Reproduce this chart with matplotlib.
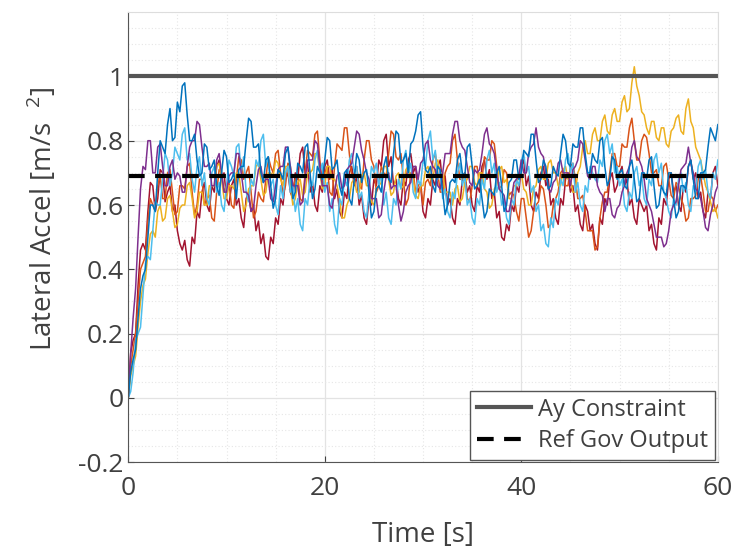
import numpy as np
import matplotlib
matplotlib.use("Agg")
from matplotlib import pyplot as plt
from matplotlib.ticker import MultipleLocator

# sample times of the runs (0.25 s steps)
t = np.linspace(0, 60, 241)

blue = [0.00, 0.08, 0.12, 0.15, 0.25, 0.34, 0.38, 0.40, 0.50, 0.60, 0.60, 0.58, 0.70, 0.80, 0.78, 0.76, 0.85, 0.90, 0.80, 0.81,
        0.92, 0.89, 0.97, 0.98, 0.88, 0.80, 0.80, 0.82, 0.74, 0.69, 0.70, 0.79, 0.78, 0.71, 0.72, 0.74, 0.66, 0.63, 0.70, 0.77,
        0.75, 0.67, 0.68, 0.70, 0.62, 0.71, 0.72, 0.72, 0.80, 0.87, 0.86, 0.78, 0.78, 0.79, 0.70, 0.67, 0.74, 0.75, 0.66, 0.59,
        0.62, 0.71, 0.70, 0.68, 0.76, 0.78, 0.70, 0.62, 0.64, 0.73, 0.72, 0.70, 0.78, 0.79, 0.70, 0.62, 0.65, 0.72, 0.70, 0.68,
        0.74, 0.81, 0.80, 0.71, 0.72, 0.74, 0.66, 0.63, 0.70, 0.71, 0.62, 0.60, 0.68, 0.76, 0.74, 0.67, 0.70, 0.71, 0.64, 0.56,
        0.58, 0.65, 0.66, 0.64, 0.72, 0.75, 0.68, 0.67, 0.76, 0.83, 0.82, 0.73, 0.74, 0.76, 0.70, 0.79, 0.80, 0.83, 0.88, 0.89,
        0.78, 0.71, 0.70, 0.72, 0.66, 0.64, 0.72, 0.71, 0.64, 0.57, 0.60, 0.67, 0.68, 0.67, 0.74, 0.76, 0.70, 0.69, 0.78, 0.79,
        0.72, 0.65, 0.66, 0.68, 0.62, 0.56, 0.58, 0.65, 0.64, 0.63, 0.70, 0.72, 0.66, 0.58, 0.60, 0.67, 0.68, 0.74, 0.74, 0.68,
        0.70, 0.77, 0.76, 0.75, 0.82, 0.82, 0.74, 0.67, 0.68, 0.74, 0.72, 0.65, 0.66, 0.72, 0.70, 0.69, 0.76, 0.82, 0.80, 0.73,
        0.72, 0.79, 0.78, 0.78, 0.84, 0.84, 0.76, 0.70, 0.70, 0.76, 0.74, 0.73, 0.80, 0.81, 0.72, 0.66, 0.68, 0.75, 0.74, 0.68,
        0.70, 0.71, 0.66, 0.65, 0.72, 0.74, 0.68, 0.61, 0.62, 0.70, 0.70, 0.68, 0.74, 0.75, 0.66, 0.59, 0.60, 0.66, 0.64, 0.63,
        0.70, 0.70, 0.62, 0.56, 0.58, 0.66, 0.66, 0.65, 0.72, 0.74, 0.68, 0.62, 0.62, 0.70, 0.70, 0.71, 0.78, 0.84, 0.82, 0.80,
        0.85]

orange = [0.00, 0.10, 0.15, 0.20, 0.30, 0.40, 0.42, 0.44, 0.55, 0.62, 0.60, 0.58, 0.66, 0.69, 0.62, 0.62, 0.70, 0.71, 0.64, 0.57,
          0.58, 0.66, 0.66, 0.65, 0.72, 0.73, 0.64, 0.57, 0.60, 0.68, 0.68, 0.60, 0.62, 0.63, 0.56, 0.55, 0.64, 0.71, 0.70, 0.64,
          0.66, 0.67, 0.60, 0.59, 0.68, 0.75, 0.74, 0.68, 0.70, 0.72, 0.64, 0.56, 0.58, 0.64, 0.62, 0.61, 0.68, 0.75, 0.72, 0.70,
          0.76, 0.77, 0.70, 0.63, 0.66, 0.73, 0.72, 0.65, 0.68, 0.69, 0.62, 0.61, 0.70, 0.77, 0.76, 0.75, 0.82, 0.83, 0.74, 0.67,
          0.70, 0.72, 0.64, 0.63, 0.72, 0.79, 0.78, 0.77, 0.84, 0.84, 0.76, 0.69, 0.70, 0.72, 0.66, 0.65, 0.74, 0.80, 0.80, 0.74,
          0.72, 0.64, 0.66, 0.72, 0.70, 0.69, 0.76, 0.83, 0.82, 0.75, 0.74, 0.76, 0.68, 0.60, 0.62, 0.70, 0.70, 0.64, 0.66, 0.67,
          0.60, 0.67, 0.68, 0.66, 0.74, 0.76, 0.70, 0.64, 0.64, 0.70, 0.72, 0.73, 0.80, 0.82, 0.74, 0.68, 0.68, 0.70, 0.62, 0.61,
          0.66, 0.72, 0.72, 0.66, 0.68, 0.75, 0.74, 0.74, 0.80, 0.79, 0.72, 0.65, 0.66, 0.71, 0.70, 0.63, 0.64, 0.63, 0.58, 0.55,
          0.62, 0.62, 0.56, 0.50, 0.52, 0.58, 0.60, 0.61, 0.66, 0.65, 0.60, 0.53, 0.54, 0.60, 0.62, 0.64, 0.70, 0.71, 0.66, 0.66,
          0.72, 0.73, 0.68, 0.62, 0.62, 0.63, 0.58, 0.52, 0.52, 0.52, 0.46, 0.47, 0.56, 0.61, 0.64, 0.64, 0.70, 0.76, 0.76, 0.72,
          0.72, 0.79, 0.78, 0.78, 0.84, 0.87, 0.80, 0.74, 0.74, 0.80, 0.82, 0.81, 0.76, 0.70, 0.70, 0.71, 0.66, 0.66, 0.72, 0.73,
          0.68, 0.63, 0.62, 0.67, 0.66, 0.62, 0.60, 0.55, 0.56, 0.62, 0.62, 0.63, 0.68, 0.69, 0.64, 0.58, 0.58, 0.63, 0.62, 0.58,
          0.60]

yellow = [0.00, 0.07, 0.10, 0.13, 0.22, 0.30, 0.35, 0.37, 0.45, 0.51, 0.52, 0.50, 0.58, 0.60, 0.55, 0.56, 0.62, 0.63, 0.58, 0.53,
          0.54, 0.59, 0.60, 0.60, 0.66, 0.67, 0.62, 0.56, 0.58, 0.64, 0.64, 0.60, 0.60, 0.66, 0.66, 0.66, 0.72, 0.73, 0.68, 0.62,
          0.62, 0.66, 0.66, 0.65, 0.70, 0.70, 0.64, 0.58, 0.60, 0.65, 0.66, 0.66, 0.72, 0.73, 0.68, 0.63, 0.64, 0.70, 0.70, 0.69,
          0.74, 0.73, 0.68, 0.66, 0.72, 0.72, 0.66, 0.60, 0.62, 0.67, 0.68, 0.63, 0.64, 0.70, 0.70, 0.71, 0.76, 0.76, 0.70, 0.65,
          0.66, 0.72, 0.72, 0.68, 0.68, 0.66, 0.62, 0.56, 0.56, 0.60, 0.62, 0.67, 0.68, 0.64, 0.64, 0.69, 0.70, 0.66, 0.66, 0.61,
          0.60, 0.65, 0.66, 0.67, 0.72, 0.72, 0.68, 0.63, 0.64, 0.69, 0.70, 0.65, 0.66, 0.71, 0.72, 0.68, 0.68, 0.63, 0.62, 0.66,
          0.66, 0.71, 0.72, 0.68, 0.68, 0.73, 0.74, 0.70, 0.70, 0.64, 0.64, 0.64, 0.60, 0.65, 0.66, 0.61, 0.62, 0.67, 0.68, 0.72,
          0.72, 0.67, 0.66, 0.70, 0.70, 0.65, 0.64, 0.59, 0.60, 0.65, 0.66, 0.71, 0.72, 0.67, 0.68, 0.62, 0.62, 0.66, 0.66, 0.70,
          0.70, 0.65, 0.64, 0.60, 0.60, 0.65, 0.66, 0.71, 0.72, 0.68, 0.68, 0.73, 0.74, 0.70, 0.70, 0.66, 0.66, 0.71, 0.72, 0.68,
          0.68, 0.64, 0.64, 0.70, 0.72, 0.78, 0.80, 0.76, 0.76, 0.82, 0.84, 0.80, 0.80, 0.86, 0.88, 0.83, 0.82, 0.88, 0.90, 0.86,
          0.86, 0.92, 0.94, 0.89, 0.90, 0.98, 1.03, 0.97, 0.94, 0.89, 0.88, 0.84, 0.82, 0.86, 0.86, 0.81, 0.80, 0.84, 0.84, 0.79,
          0.78, 0.83, 0.84, 0.87, 0.88, 0.83, 0.82, 0.90, 0.93, 0.86, 0.84, 0.78, 0.76, 0.74, 0.70, 0.66, 0.64, 0.61, 0.58, 0.59,
          0.56]

purple = [0.00, 0.14, 0.25, 0.34, 0.50, 0.65, 0.72, 0.71, 0.80, 0.80, 0.70, 0.70, 0.78, 0.79, 0.72, 0.66, 0.66, 0.72, 0.74, 0.68,
          0.70, 0.69, 0.64, 0.64, 0.72, 0.78, 0.80, 0.80, 0.86, 0.85, 0.78, 0.72, 0.72, 0.73, 0.66, 0.66, 0.74, 0.76, 0.70, 0.64,
          0.64, 0.69, 0.70, 0.70, 0.76, 0.76, 0.70, 0.64, 0.64, 0.63, 0.58, 0.59, 0.66, 0.71, 0.72, 0.67, 0.68, 0.68, 0.62, 0.61,
          0.66, 0.71, 0.72, 0.72, 0.78, 0.78, 0.72, 0.66, 0.66, 0.66, 0.60, 0.61, 0.68, 0.74, 0.74, 0.74, 0.80, 0.79, 0.72, 0.66,
          0.66, 0.66, 0.60, 0.59, 0.64, 0.69, 0.70, 0.65, 0.66, 0.71, 0.72, 0.73, 0.78, 0.83, 0.82, 0.77, 0.74, 0.70, 0.68, 0.62,
          0.62, 0.62, 0.56, 0.57, 0.64, 0.69, 0.70, 0.65, 0.66, 0.66, 0.60, 0.55, 0.58, 0.64, 0.66, 0.67, 0.72, 0.72, 0.68, 0.73,
          0.74, 0.79, 0.80, 0.74, 0.72, 0.71, 0.66, 0.65, 0.70, 0.76, 0.76, 0.76, 0.82, 0.86, 0.86, 0.80, 0.78, 0.77, 0.72, 0.67,
          0.66, 0.71, 0.70, 0.71, 0.76, 0.82, 0.84, 0.79, 0.78, 0.76, 0.70, 0.65, 0.64, 0.63, 0.58, 0.58, 0.62, 0.67, 0.68, 0.69,
          0.74, 0.70, 0.70, 0.76, 0.78, 0.79, 0.84, 0.78, 0.76, 0.75, 0.70, 0.65, 0.64, 0.67, 0.68, 0.73, 0.74, 0.70, 0.70, 0.70,
          0.66, 0.71, 0.72, 0.74, 0.80, 0.79, 0.74, 0.69, 0.68, 0.72, 0.72, 0.66, 0.64, 0.63, 0.58, 0.62, 0.62, 0.57, 0.56, 0.59,
          0.60, 0.64, 0.66, 0.70, 0.72, 0.78, 0.80, 0.75, 0.74, 0.72, 0.68, 0.62, 0.60, 0.58, 0.54, 0.50, 0.50, 0.50, 0.47, 0.48,
          0.52, 0.58, 0.60, 0.61, 0.66, 0.71, 0.72, 0.73, 0.78, 0.73, 0.70, 0.65, 0.64, 0.62, 0.58, 0.53, 0.52, 0.57, 0.60, 0.64,
          0.66]

cyan = [0.00, 0.02, 0.08, 0.18, 0.20, 0.22, 0.32, 0.42, 0.44, 0.43, 0.52, 0.61, 0.60, 0.60, 0.68, 0.76, 0.74, 0.66, 0.70, 0.78,
        0.76, 0.74, 0.82, 0.84, 0.74, 0.76, 0.68, 0.64, 0.72, 0.75, 0.66, 0.70, 0.62, 0.60, 0.70, 0.72, 0.64, 0.67, 0.60, 0.58,
        0.66, 0.74, 0.72, 0.69, 0.78, 0.79, 0.70, 0.75, 0.64, 0.61, 0.68, 0.66, 0.74, 0.72, 0.80, 0.82, 0.72, 0.75, 0.66, 0.68,
        0.60, 0.57, 0.66, 0.62, 0.70, 0.72, 0.64, 0.66, 0.58, 0.62, 0.54, 0.52, 0.62, 0.60, 0.68, 0.66, 0.74, 0.77, 0.70, 0.73,
        0.64, 0.67, 0.58, 0.62, 0.54, 0.51, 0.62, 0.60, 0.68, 0.66, 0.74, 0.76, 0.70, 0.72, 0.62, 0.64, 0.58, 0.56, 0.64, 0.72,
        0.70, 0.73, 0.66, 0.70, 0.60, 0.64, 0.56, 0.54, 0.62, 0.60, 0.68, 0.65, 0.74, 0.77, 0.70, 0.73, 0.64, 0.62, 0.68, 0.66,
        0.74, 0.72, 0.80, 0.83, 0.74, 0.77, 0.68, 0.71, 0.62, 0.65, 0.58, 0.56, 0.64, 0.62, 0.70, 0.73, 0.66, 0.69, 0.60, 0.62,
        0.56, 0.54, 0.62, 0.60, 0.68, 0.65, 0.74, 0.77, 0.70, 0.73, 0.64, 0.67, 0.60, 0.62, 0.56, 0.54, 0.62, 0.60, 0.68, 0.66,
        0.74, 0.76, 0.70, 0.72, 0.64, 0.66, 0.58, 0.60, 0.52, 0.54, 0.48, 0.47, 0.56, 0.53, 0.62, 0.60, 0.68, 0.66, 0.74, 0.76,
        0.70, 0.73, 0.64, 0.67, 0.60, 0.58, 0.66, 0.64, 0.72, 0.70, 0.68, 0.67, 0.74, 0.72, 0.80, 0.82, 0.76, 0.79, 0.70, 0.72,
        0.66, 0.68, 0.60, 0.58, 0.64, 0.62, 0.70, 0.72, 0.66, 0.69, 0.62, 0.60, 0.68, 0.66, 0.74, 0.76, 0.70, 0.73, 0.64, 0.62,
        0.58, 0.56, 0.62, 0.60, 0.68, 0.70, 0.64, 0.67, 0.60, 0.58, 0.66, 0.64, 0.72, 0.74, 0.68, 0.71, 0.64, 0.62, 0.70, 0.68,
        0.74]

darkred = [0.00, 0.14, 0.18, 0.20, 0.35, 0.46, 0.48, 0.46, 0.58, 0.67, 0.66, 0.58, 0.62, 0.71, 0.70, 0.61, 0.64, 0.66, 0.58, 0.60,
           0.52, 0.48, 0.46, 0.49, 0.43, 0.41, 0.50, 0.48, 0.58, 0.56, 0.64, 0.67, 0.60, 0.58, 0.66, 0.64, 0.72, 0.74, 0.68, 0.70,
           0.62, 0.60, 0.66, 0.68, 0.60, 0.62, 0.56, 0.53, 0.62, 0.64, 0.58, 0.60, 0.52, 0.55, 0.48, 0.51, 0.44, 0.43, 0.50, 0.48,
           0.56, 0.54, 0.62, 0.60, 0.68, 0.70, 0.64, 0.62, 0.70, 0.68, 0.76, 0.78, 0.70, 0.73, 0.64, 0.67, 0.60, 0.58, 0.66, 0.64,
           0.72, 0.74, 0.68, 0.71, 0.62, 0.65, 0.58, 0.56, 0.64, 0.62, 0.70, 0.72, 0.66, 0.69, 0.60, 0.63, 0.56, 0.54, 0.62, 0.60,
           0.68, 0.66, 0.74, 0.72, 0.80, 0.82, 0.72, 0.75, 0.66, 0.68, 0.62, 0.60, 0.68, 0.66, 0.74, 0.76, 0.70, 0.72, 0.64, 0.66,
           0.58, 0.56, 0.62, 0.60, 0.68, 0.66, 0.72, 0.74, 0.66, 0.69, 0.60, 0.62, 0.56, 0.54, 0.62, 0.60, 0.68, 0.70, 0.64, 0.66,
           0.60, 0.58, 0.66, 0.64, 0.72, 0.74, 0.68, 0.71, 0.62, 0.64, 0.56, 0.58, 0.50, 0.49, 0.54, 0.52, 0.60, 0.58, 0.66, 0.64,
           0.72, 0.74, 0.66, 0.69, 0.60, 0.58, 0.64, 0.62, 0.70, 0.72, 0.66, 0.68, 0.60, 0.62, 0.56, 0.54, 0.62, 0.60, 0.68, 0.70,
           0.64, 0.66, 0.58, 0.60, 0.54, 0.52, 0.60, 0.58, 0.52, 0.54, 0.48, 0.46, 0.56, 0.54, 0.62, 0.60, 0.68, 0.70, 0.64, 0.66,
           0.70, 0.72, 0.66, 0.68, 0.60, 0.62, 0.56, 0.54, 0.62, 0.60, 0.58, 0.60, 0.52, 0.54, 0.48, 0.46, 0.56, 0.54, 0.62, 0.60,
           0.68, 0.70, 0.64, 0.66, 0.60, 0.58, 0.66, 0.64, 0.72, 0.74, 0.68, 0.70, 0.62, 0.64, 0.58, 0.56, 0.64, 0.62, 0.70, 0.72,
           0.66]

runs = [darkred, orange, yellow, cyan, purple, blue]
run_colors = ['#A2142F', '#D95319', '#EDB120', '#4DBEEE', '#7E2F8E', '#0072BD']

ay_constraint = 1.0
ref_gov_output = 0.69

plt.rcParams['font.family'] = ['Open Sans', 'DejaVu Sans']
plt.rcParams['mathtext.fontset'] = 'custom'
plt.rcParams['mathtext.rm'] = 'Open Sans'
text_color = '#404040'

fig = plt.figure(figsize=(7.37, 5.49), dpi=100)
ax = fig.add_axes([0.174, 0.158, 0.800, 0.820])

for vals, c in zip(runs, run_colors):
    ax.plot(t, vals, color=c, lw=1.1)

ax.axhline(ay_constraint, color='#555555', lw=3, label='Ay Constraint')
ax.axhline(ref_gov_output, color='black', lw=3, ls=(0, (4, 2.5)),
           label='Ref Gov Output')

ax.set_xlim(0, 60)
ax.set_ylim(-0.2, 1.2)
ax.set_xticks([0, 20, 40, 60])
ax.set_yticks([-0.2, 0, 0.2, 0.4, 0.6, 0.8, 1])
ax.set_yticklabels(['-0.2', '0', '0.2', '0.4', '0.6', '0.8', '1'])
ax.xaxis.set_minor_locator(MultipleLocator(5))
ax.yaxis.set_minor_locator(MultipleLocator(0.05))
ax.set_axisbelow(True)
ax.grid(which='major', color='#e3e3e3', lw=0.9)
ax.grid(which='minor', color='#e6e6e6', lw=0.8, ls=(0, (1, 2)))

ax.tick_params(which='both', direction='in', colors=text_color, labelsize=19,
               length=4, width=0.8)
ax.tick_params(which='minor', length=0)
ax.tick_params(axis='x', pad=10)
for side in ['left', 'bottom']:
    ax.spines[side].set_color('#555555')
for side in ['top', 'right']:
    ax.spines[side].set_color('#dddddd')

ax.set_xlabel('Time [s]', fontsize=20, color=text_color, labelpad=14)
ax.set_ylabel('Lateral Accel [m/s  $^2$]', fontsize=20, color=text_color)
ax.yaxis.set_label_coords(-0.117, 0.54)

leg = ax.legend(loc='lower right', fontsize=17, fancybox=False, framealpha=1,
                edgecolor='#555555', borderaxespad=0.1, handlelength=2.3,
                labelspacing=0.3, borderpad=0.3, handletextpad=0.3)
for txt in leg.get_texts():
    txt.set_color(text_color)

fig.savefig('out.png', dpi=100)
